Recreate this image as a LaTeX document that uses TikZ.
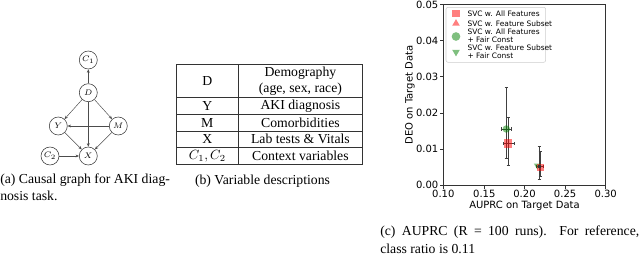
\documentclass[tikz,border=0pt]{standalone}
\usepackage{fontspec}
\setmainfont{Liberation Serif}
\newfontfamily\plotfont{DejaVu Sans}
\usetikzlibrary{arrows.meta,shapes.geometric,positioning}
\definecolor{mplred}{RGB}{255,0,0}
\definecolor{mplgreen}{RGB}{0,128,0}
\definecolor{frame}{RGB}{205,205,205}

\begin{document}
\begin{tikzpicture}[x=0.75pt,y=-0.75pt,
      var/.style={draw=black!80,circle,minimum size=13.5pt,inner sep=0pt,line width=0.4pt,
                  font=\fontsize{6}{6.5}\selectfont},
      cause/.style={-{Stealth[length=2.6pt,width=2.1pt]},line width=0.35pt,draw=black!70},
      capt/.style={font=\fontsize{10.3}{13}\selectfont,inner sep=0pt},
      cell/.style={font=\fontsize{10.3}{12.2}\selectfont,inner sep=0pt,align=center},
      ticklab/.style={font=\plotfont\fontsize{7.5}{8}\selectfont,inner sep=0pt},
      legtext/.style={font=\plotfont\fontsize{5.6}{6}\selectfont,inner sep=0pt,anchor=west,align=left},
      mksq/.style={rectangle,fill=mplred,fill opacity=0.5,inner sep=0pt,minimum size=#1},
      mkup/.style={regular polygon,regular polygon sides=3,fill=mplred,fill opacity=0.5,
                   inner sep=0pt,minimum size=#1},
      mkdot/.style={circle,fill=mplgreen,fill opacity=0.5,inner sep=0pt,minimum size=#1},
      mkdown/.style={regular polygon,regular polygon sides=3,shape border rotate=180,
                     fill=mplgreen,fill opacity=0.5,inner sep=0pt,minimum size=#1},
      ebar/.style={line width=0.45pt,draw=black!75}]
  \useasboundingbox (0,0) rectangle (640,261);

  % (a) causal graph
  \node[var] (C1) at (88.3,60)   {$C_1$};
  \node[var] (D)  at (88.3,92.7) {$D$};
  \node[var] (Y)  at (58.3,126)  {$Y$};
  \node[var] (M)  at (118.3,126) {$M$};
  \node[var] (C2) at (50,156)    {$C_2$};
  \node[var] (X)  at (88.3,156)  {$X$};
  \draw[cause] (D) -- (C1);
  \draw[cause] (D) -- (Y);
  \draw[cause] (D) -- (M);
  \draw[cause] (D) -- (X);
  \draw[cause] (M) -- (Y);
  \draw[cause] (Y) -- (X);
  \draw[cause] (M) -- (X);
  \draw[cause] (C2) -- (X);
  \node[capt,anchor=north west,align=left] (capa) at (0,173.5)
       {(a) Causal graph for AKI diag-\\nosis task.};

  % (b) variable table
  \draw[line width=0.5pt,black!80] (176.5,64.5) rectangle (362.5,164.2);
  \draw[line width=0.5pt,black!80] (238.2,64.5) -- (238.2,164.2);
  \foreach \yy in {97.6,114.3,131,147.6}
    \draw[line width=0.5pt,black!80] (176.5,\yy) -- (362.5,\yy);
  % Row D
  \node[cell] (vD) at (207.3,81) {D};
  \node[cell] (dD) at (300.4,81) {Demography\\(age, sex, race)};
  % Row Y
  \node[cell] (vY) at (207.3,106) {Y};
  \node[cell] (dY) at (300.4,106) {AKI diagnosis};
  % Row M
  \node[cell] (vM) at (207.3,122.6) {M};
  \node[cell] (dM) at (300.4,122.6) {Comorbidities};
  % Row X
  \node[cell] (vX) at (207.3,139.3) {X};
  \node[cell] (dX) at (300.4,139.3) {Lab tests \& Vitals};
  % Row C
  \node[cell] (vC) at (207.3,156) {$C_1,C_2$};
  \node[cell] (dC) at (300.4,156) {Context variables};
  \node[capt] (capb) at (262.5,181) {(b) Variable descriptions};

  % (c) scatter plot
  \draw[line width=0.6pt,black!80] (443.3,4.7) rectangle (605.7,185);
  \foreach \v/\yy in {0.00/185,0.01/148.9,0.02/112.9,0.03/76.8,0.04/40.7,0.05/4.7} {
    \draw[line width=0.5pt,black!80] (443.3,\yy) -- (439.8,\yy);
    \node[ticklab,anchor=east] at (438.6,\yy) {\v};
  }
  \foreach \v/\xx in {0.10/443.3,0.15/484.3,0.20/524.5,0.25/565.1,0.30/605.7} {
    \draw[line width=0.5pt,black!80] (\xx,185) -- (\xx,188.5);
    \node[ticklab,anchor=north] at (\xx,189.6) {\v};
  }
  \node[ticklab,rotate=90] (ylab) at (410,95) {DEO on Target Data};
  \node[ticklab] (xlab) at (524.5,206) {AUPRC on Target Data};

  % legend
  \draw[frame,fill=white,line width=0.4pt,rounded corners=1.5pt] (446,7.3) rectangle (545.7,62.3);
  \node[mksq=5.5pt]     (l1) at (456,13.3) {};
  \node[mkup=6.6pt]     (l2) at (456,23.5) {};
  \node[mkdot=6.5pt]    (l3) at (456,36.5) {};
  \node[mkdown=6.6pt]   (l4) at (456,52) {};
  \node[legtext] (t1) at (467.3,13.3) {SVC w. All Features};
  \node[legtext] (t2) at (467.3,23.3) {SVC w. Feature Subset};
  \node[legtext] (t3) at (467.3,36) {SVC w. All Features\\+ Fair Const};
  \node[legtext] (t4) at (467.3,52.2) {SVC w. Feature Subset\\+ Fair Const};

  % error bars
  \foreach \xx/\ya/\yb in {506.3/87.3/158.3,508.3/117.7/165.7,539.3/146/179,540.3/151.7/176.7} {
    \draw[ebar] (\xx,\ya) -- (\xx,\yb);
    \draw[ebar] (\xx-1.6,\ya) -- (\xx+1.6,\ya);
    \draw[ebar] (\xx-1.6,\yb) -- (\xx+1.6,\yb);
  }
  \foreach \xa/\xb/\yy in {501/511.7/129,503.3/514.3/143.7,536/543/166.3} {
    \draw[ebar] (\xa,\yy) -- (\xb,\yy);
    \draw[ebar] (\xa,\yy-1.6) -- (\xa,\yy+1.6);
    \draw[ebar] (\xb,\yy-1.6) -- (\xb,\yy+1.6);
  }

  % points
  \node[mkdot=5.6pt]  (p1) at (506.3,129) {};
  \node[mksq=6.4pt]   (p2) at (508.2,143.7) {};
  \node[mkdown=6pt]   (p3) at (537.3,165.5) {};
  \node[mksq=5.6pt]   (p4) at (540.6,167.6) {};
  \node[rectangle,fill=black!80,inner sep=0pt,minimum size=2.6pt] (p5) at (539.5,166.6) {};

  \node[capt,anchor=north west,text width=194.3pt,align=justify] (capc) at (380,225.8)
       {(c) AUPRC (R = 100 runs).\ \ For reference,\linebreak class ratio is 0.11};
\end{tikzpicture}
\end{document}
